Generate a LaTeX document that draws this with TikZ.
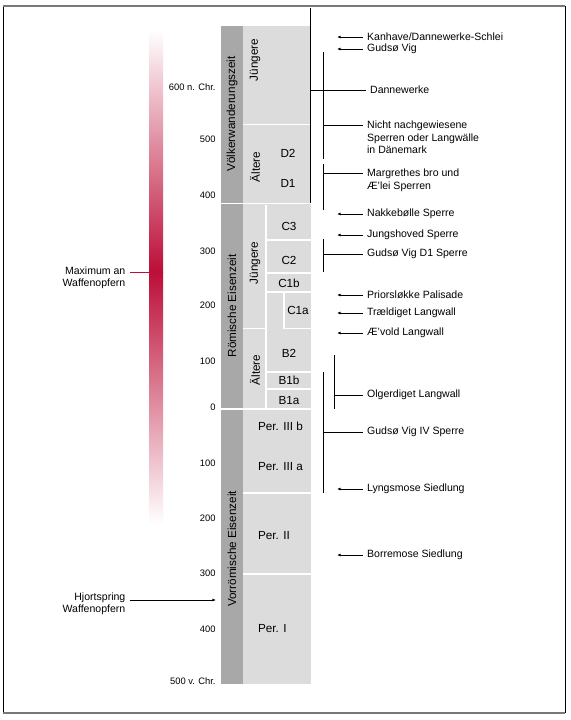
\documentclass[tikz,border=0pt]{standalone}
\usepackage{fontspec}
\setmainfont{Liberation Sans}
\usetikzlibrary{arrows.meta}
\definecolor{waffenrot}{RGB}{188,14,56}
\definecolor{epochgrau}{RGB}{168,168,168}
\definecolor{phasegrau}{RGB}{220,220,220}
\definecolor{rahmengrau}{RGB}{120,120,120}
\tikzset{
  jahr/.style={anchor=east, inner sep=1pt, font=\fontsize{8}{9}\selectfont},
  phasetext/.style={font=\fontsize{10}{12}\selectfont},
  epochtext/.style={rotate=90, font=\fontsize{10}{12}\selectfont},
  fundtext/.style={anchor=west, align=left, font=\fontsize{9}{10.5}\selectfont},
  opfertext/.style={anchor=east, align=right, font=\fontsize{9}{10.5}\selectfont},
  trenner/.style={draw=white, line width=1.6pt},
  linie/.style={line width=0.6pt},
  pfeil/.style={line width=0.6pt, -{Latex[length=3pt,width=2.4pt]}},
}

\begin{document}
\begin{tikzpicture}[x=0.03cm, y=-0.03cm]
  \useasboundingbox (0,0) rectangle (571,720);

  % Rahmen
  \draw[linie] (3,6) -- (3,713);
  \draw[linie] (565,6) -- (565,713);
  \draw[rahmengrau, line width=1.6pt] (3,6) -- (565,6);
  \draw[rahmengrau, line width=1.6pt] (3,713) -- (565,713);

  % Waffenopfer (Farbverlauf)
  \shade[top color=white, bottom color=waffenrot] (149,30) rectangle (163,272);
  \shade[top color=waffenrot, bottom color=white] (149,272) rectangle (163,524);
  \node[opfertext] (maximum) at (129.5,278) {Maximum an\\Waffenopfern};
  \coordinate (max-ast) at (149,272);
  \draw[waffenrot, line width=0.7pt] (max-ast) -- (max-ast -| maximum.east);
  \node[opfertext] (hjortspring) at (129.5,604) {Hjortspring\\Waffenopfern};
  \coordinate (hjort-spitze) at (216,600);
  \draw[pfeil] (hjort-spitze -| hjortspring.east) -- (hjort-spitze);

  % Jahreszahlen
  \foreach \y/\t in {87/600 n. Chr., 139/500, 195/400, 251/300, 305/200, 361/100,
                     407/0, 463/100, 518/200, 573/300, 629/400, 681/500 v. Chr.} {
    \node[jahr] (jahr\y) at (217,\y) {\t};
  }

  % Epochen und Phasen
  \fill[epochgrau] (221,26) rectangle (243,684);
  \fill[phasegrau] (243,26) rectangle (311,684);
  \draw[trenner] (221,203.5) -- (311,203.5);
  \draw[trenner] (221,409) -- (311,409);
  \draw[trenner] (243,124.5) -- (311,124.5);
  \draw[trenner] (266,205) -- (266,409);
  \draw[trenner] (243,328.5) -- (266,328.5);
  \foreach \y in {240,273,292,372,389} {
    \draw[trenner] (266,\y) -- (311,\y);
  }
  \draw[trenner] (284,292) -- (284,328.5) -- (311,328.5);
  \draw[trenner] (243,493) -- (311,493);
  \draw[trenner] (243,574) -- (311,574);

  \node[epochtext] (voelker) at (232,114) {Völkerwanderungszeit};
  \node[epochtext] (roemisch) at (232,306) {Römische Eisenzeit};
  \node[epochtext] (vorroemisch) at (232,549) {Vorrömische Eisenzeit};
  \node[epochtext] (vjung) at (255,60) {Jüngere};
  \node[epochtext] (valt) at (255,167) {Ältere};
  \node[epochtext] (rjung) at (255,263) {Jüngere};
  \node[epochtext] (ralt) at (255,370) {Ältere};

  \foreach \x/\y/\t in {288/153/D2, 288/183/D1, 289/226/C3, 289/260/C2, 289/283/C1b,
                        298/310/C1a, 289/353/B2, 289/380/B1b, 289/401/B1a} {
    \node[phasetext] (phase\t) at (\x,\y) {\t};
  }
  \foreach \y/\n/\t in {426/p3b/Per. III b, 467/p3a/Per. III a, 536/p2/Per. II, 629/p1/Per. I} {
    \node[phasetext, anchor=west] (\n) at (254,\y) {\t};
  }

  % Fundplaetze mit Pfeil
  \foreach \y/\t in {37/{Kanhave/Dannewerke-Schlei}, 49/Gudsø Vig, 214/Nakkebølle Sperre,
                     235/Jungshoved Sperre, 295/Priorsløkke Palisade, 313/Trældiget Langwall,
                     333/Æ’vold Langwall, 489/Lyngsmose Siedlung, 555/Borremose Siedlung} {
    \node[fundtext] (fund\y) at (363,\y) {\t};
    \coordinate (spitze\y) at (337,\y);
    \draw[pfeil] (fund\y.west) -- (spitze\y);
  }

  % Fundplaetze mit Zeitspanne
  \node[fundtext] (dannewerke) at (366,90) {Dannewerke};
  \coordinate (danne-oben) at (310,8);
  \coordinate (danne-unten) at (310,203);
  \coordinate (danne-ast) at (310,90);
  \draw[linie] (danne-oben) -- (danne-unten);
  \draw[linie] (danne-ast) -- (dannewerke.west);

  \node[fundtext, anchor=north west] (nicht) at (363,117) {Nicht nachgewiesene\\Sperren oder Langwälle\\in Dänemark};
  \coordinate (nicht-oben) at (323,52);
  \coordinate (nicht-unten) at (323,159);
  \coordinate (nicht-ast) at (323,125);
  \draw[linie] (nicht-oben) -- (nicht-unten);
  \draw[linie] (nicht-ast) -- (nicht-ast -| nicht.west);

  \node[fundtext, anchor=north west] (margrethe) at (363,165) {Margrethes bro und\\Æ’lei Sperren};
  \coordinate (marg-oben) at (323,164);
  \coordinate (marg-unten) at (323,210);
  \coordinate (marg-ast) at (323,173);
  \draw[linie] (marg-oben) -- (marg-unten);
  \draw[linie] (marg-ast) -- (marg-ast -| margrethe.west);

  \node[fundtext] (gudsoed) at (363,254) {Gudsø Vig D1 Sperre};
  \coordinate (gd-oben) at (323,239);
  \coordinate (gd-unten) at (323,272);
  \coordinate (gd-ast) at (323,254);
  \draw[linie] (gd-oben) -- (gd-unten);
  \draw[linie] (gd-ast) -- (gudsoed.west);

  \node[fundtext] (olger) at (363,395) {Olgerdiget Langwall};
  \coordinate (olger-oben) at (334,355);
  \coordinate (olger-unten) at (334,409);
  \coordinate (olger-ast) at (334,395);
  \draw[linie] (olger-oben) -- (olger-unten);
  \draw[linie] (olger-ast) -- (olger.west);

  \node[fundtext] (gudsoiv) at (363,432) {Gudsø Vig IV Sperre};
  \coordinate (giv-oben) at (323,372);
  \coordinate (giv-unten) at (323,493);
  \coordinate (giv-ast) at (323,432);
  \draw[linie] (giv-oben) -- (giv-unten);
  \draw[linie] (giv-ast) -- (gudsoiv.west);
\end{tikzpicture}
\end{document}
